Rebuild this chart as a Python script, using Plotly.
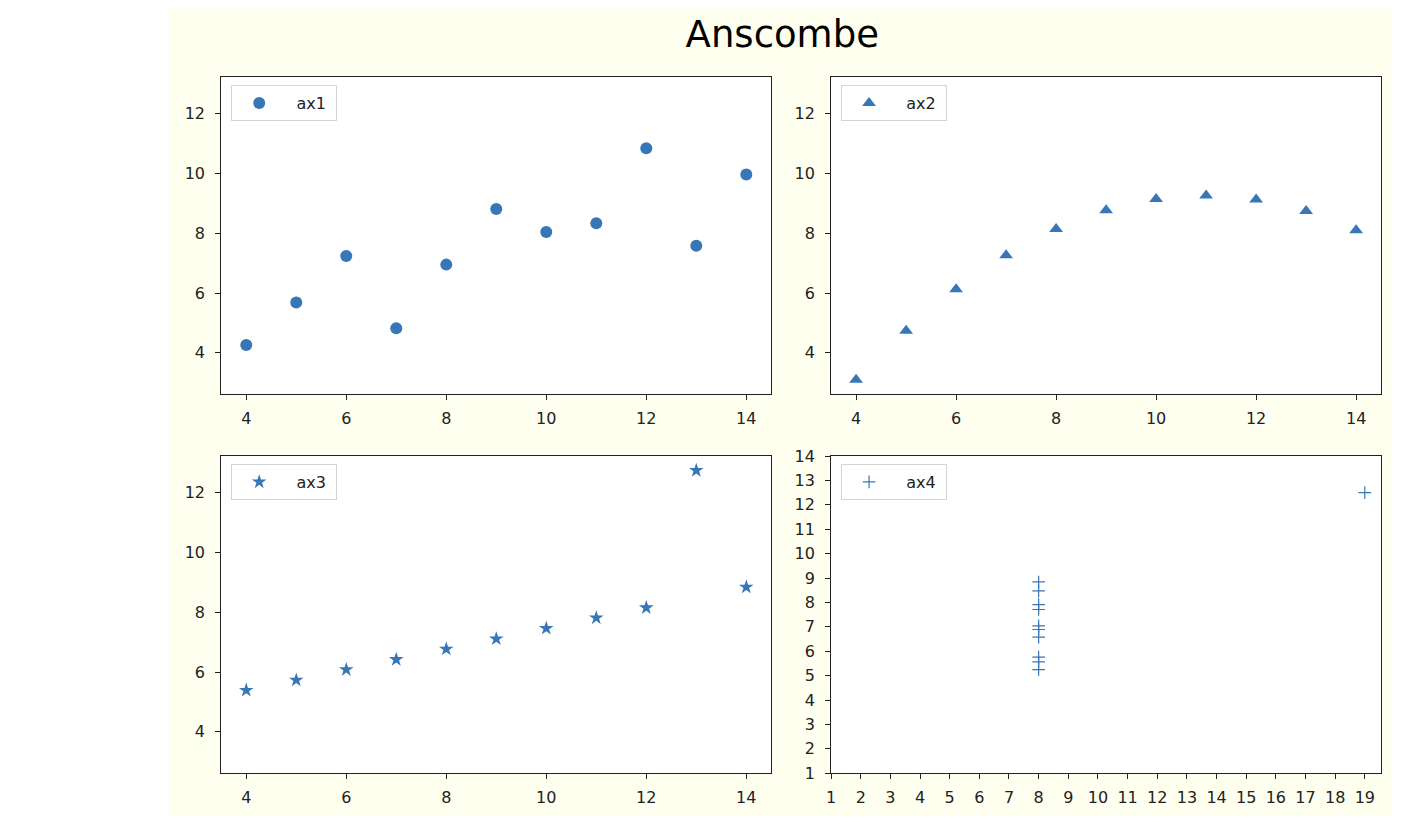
import plotly.graph_objects as go

# Anscombe's quartet
x_123 = [10, 8, 13, 9, 11, 14, 6, 4, 12, 7, 5]
y1 = [8.04, 6.95, 7.58, 8.81, 8.33, 9.96, 7.24, 4.26, 10.84, 4.82, 5.68]
y2 = [9.14, 8.14, 8.74, 8.77, 9.26, 8.10, 6.13, 3.10, 9.13, 7.26, 4.74]
y3 = [7.46, 6.77, 12.74, 7.11, 7.81, 8.84, 6.08, 5.39, 8.15, 6.42, 5.73]
x4 = [8, 8, 8, 8, 8, 8, 8, 19, 8, 8, 8]
y4 = [6.58, 5.76, 7.71, 8.84, 8.47, 7.04, 5.25, 12.50, 5.56, 7.91, 6.89]
names = ["ax1", "ax2", "ax3", "ax4"]
title_text = "Anscombe"
ticks_123_x = [4, 6, 8, 10, 12, 14]
ticks_123_y = [4, 6, 8, 10, 12]
ticks_4_x = list(range(1, 20))
ticks_4_y = list(range(1, 15))

# page offset (default body margin) and figure size
OFF = 8
W, H = 1406, 808
VS = 0.979  # observed vertical compression of the photographed page
COLOR = "#3776b7"
FONT = "DejaVu Sans"

def px_x(p):
    return (p - 3 - OFF) / W

def px_y(p):
    fy = (p - OFF) / VS - OFF
    return 1 - fy / H

col_x = [(220, 772), (832, 1384)]
row_y = [(76, 394), (456, 774)]

fig = go.Figure()

series = [
    (x_123, y1, "circle", 12, "x", "y", "legend"),
    (x_123, y2, "triangle-up", 12, "x2", "y2", "legend2"),
    (x_123, y3, "star", 11, "x3", "y3", "legend3"),
    (x4, y4, "cross-thin", 9, "x4", "y4", "legend4"),
]
for i, (xs, ys, sym, sz, xa, ya, lg) in enumerate(series):
    marker = dict(symbol=sym, size=sz, color=COLOR)
    if sym == "cross-thin":
        marker["line"] = dict(color=COLOR, width=1.2)
    else:
        marker["line"] = dict(width=0)
    fig.add_trace(go.Scatter(x=xs, y=ys, mode="markers", marker=marker,
                             name="\u00a0\u00a0" + names[i] + "\u00a0",
                             xaxis=xa, yaxis=ya, legend=lg, showlegend=True))

axis_common = dict(showline=True, mirror=True, linecolor="#222", linewidth=1.1,
                   ticks="outside", ticklen=5, tickwidth=1.1, tickcolor="#222",
                   showgrid=False, zeroline=False,
                   tickfont=dict(family=FONT, size=16, color="#222"))

layout = dict(width=W, height=H, margin=dict(l=0, r=0, t=0, b=0),
              paper_bgcolor="white", plot_bgcolor="white",
              font=dict(family=FONT, size=16, color="#222"))

shapes = [dict(type="rect", xref="paper", yref="paper", layer="below",
               x0=px_x(168), x1=px_x(1395), y0=px_y(817), y1=px_y(3),
               fillcolor="#fffff0", line=dict(width=0))]

positions = [(0, 0), (0, 1), (1, 0), (1, 1)]
for k, (r, c) in enumerate(positions):
    sfx = "" if k == 0 else str(k + 1)
    xd = [px_x(col_x[c][0]), px_x(col_x[c][1])]
    yd = [px_y(row_y[r][1]), px_y(row_y[r][0])]
    shapes.append(dict(type="rect", xref="paper", yref="paper", layer="below",
                       x0=xd[0], x1=xd[1], y0=yd[0], y1=yd[1],
                       fillcolor="white", line=dict(width=0)))
    if k < 3:
        xr, yr, xt, yt = [3.5, 14.5], [2.618, 13.222], ticks_123_x, ticks_123_y
    else:
        xr, yr, xt, yt = [1, 19.55], [1, 14], ticks_4_x, ticks_4_y
    layout["xaxis" + sfx] = dict(axis_common, domain=xd, range=xr, tickvals=xt,
                                 anchor="y" + sfx, ticklabelstandoff=5)
    layout["yaxis" + sfx] = dict(axis_common, domain=yd, range=yr, tickvals=yt,
                                 anchor="x" + sfx, ticklabelstandoff=7)
    layout["legend" + sfx] = dict(x=px_x(col_x[c][0] + 10), y=px_y(row_y[r][0] + 8),
                                  xanchor="left", yanchor="top", xref="paper", yref="paper",
                                  bgcolor="white", bordercolor="#d4d4d4", borderwidth=1,
                                  itemwidth=44, font=dict(family=FONT, size=16, color="#222"))

layout["title"] = dict(text=title_text, x=px_x(783), xanchor="center", xref="paper",
                       y=px_y(33), yanchor="middle", yref="paper",
                       font=dict(family=FONT, size=37, color="black"))
layout["shapes"] = shapes

fig.update_layout(**layout)
fig.write_html("out.html")
